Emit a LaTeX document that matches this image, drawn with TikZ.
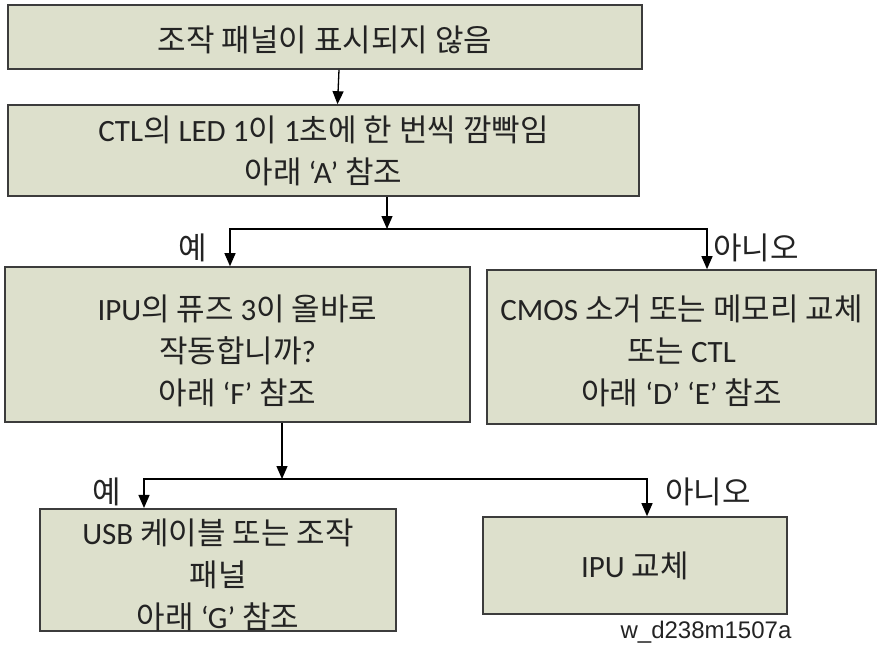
\documentclass[tikz,border=0pt]{standalone}
\usepackage{fontspec}
\setmainfont{Noto Sans CJK KR}
\newfontfamily\latfont{Carlito}
\newfontfamily\capfont{Liberation Sans}
\newcommand{\enf}[1]{{\latfont #1}}
\newcommand{\lift}[1]{\rule{0pt}{#1}}
\usetikzlibrary{arrows.meta}
\definecolor{boxfill}{RGB}{221,224,204}
\definecolor{boxline}{RGB}{60,60,60}
\definecolor{txt}{RGB}{35,35,35}

\begin{document}
\begin{tikzpicture}[x=1pt, y=-1pt,
    box/.style={draw=boxline, fill=boxfill, line width=1.6pt, align=center,
                inner sep=0pt, font=\fontsize{31}{42}\selectfont, text=txt},
    arr/.style={-{Triangle[length=13pt, width=11pt]}, line width=1.3pt},
    lbl/.style={font=\fontsize{31}{34}\selectfont, text=txt, inner sep=0pt},
]
\useasboundingbox (0,0) rectangle (878,650);

\node[box, minimum width=634pt, minimum height=64pt] (panel) at (325,37)
    {\lift{31pt}조작 패널이 표시되지 않음};
\node[box, minimum width=631pt, minimum height=91pt] (led) at (323.5,150.5)
    {\enf{CTL}의 \enf{LED 1}이 \enf{1}초에 한 번씩 깜빡임\\아래 \enf{‘A’} 참조};
\node[box, minimum width=465pt, minimum height=155pt] (fuse) at (237.5,344.5)
    {\lift{38pt}\enf{IPU}의 퓨즈 \enf{3}이 올바로\\작동합니까\enf{?}\\아래 \enf{‘F’} 참조};
\node[box, minimum width=389pt, minimum height=154pt] (cmos) at (681.5,347)
    {\lift{34pt}\enf{CMOS} 소거 또는 메모리 교체\\또는 \enf{CTL}\\아래 \enf{‘D’ ‘E’} 참조};
\node[box, minimum width=356pt, minimum height=114pt] (usb) at (218,570)
    {\lift{36pt}\enf{USB} 케이블 또는 조작\\패널\\아래 \enf{‘G’} 참조};
\node[box, minimum width=304pt, minimum height=97pt] (ipu) at (635,565.5)
    {\enf{IPU} 교체};

% branch points
\coordinate (split1) at (387,229);
\coordinate (split2) at (282,479);

\draw[arr] ([xshift=14pt]panel.south) -- ([xshift=14pt]led.north);
\draw[arr] ([xshift=63.5pt]led.south) -- (split1);
\draw[arr] (split1) -| ([xshift=-7.5pt]fuse.north);
\draw[arr] (split1) -| ([xshift=25.5pt]cmos.north);
\draw[arr] ([xshift=44.5pt]fuse.south) -- (split2);
\draw[arr] (split2) -| ([xshift=-74pt]usb.north);
\draw[arr] (split2) -| ([xshift=12pt]ipu.north);

\node[lbl] (yes1) at (193,248) {예};
\node[lbl, anchor=west] (no1) at (713,248) {아니오};
\node[lbl] (yes2) at (107,492) {예};
\node[lbl, anchor=west] (no2) at (665,492) {아니오};

\node[font=\capfont\fontsize{24}{26}\selectfont, text=txt, inner sep=0pt]
    (fig) at (706,632) {w\_d238m1507a};

\end{tikzpicture}
\end{document}
